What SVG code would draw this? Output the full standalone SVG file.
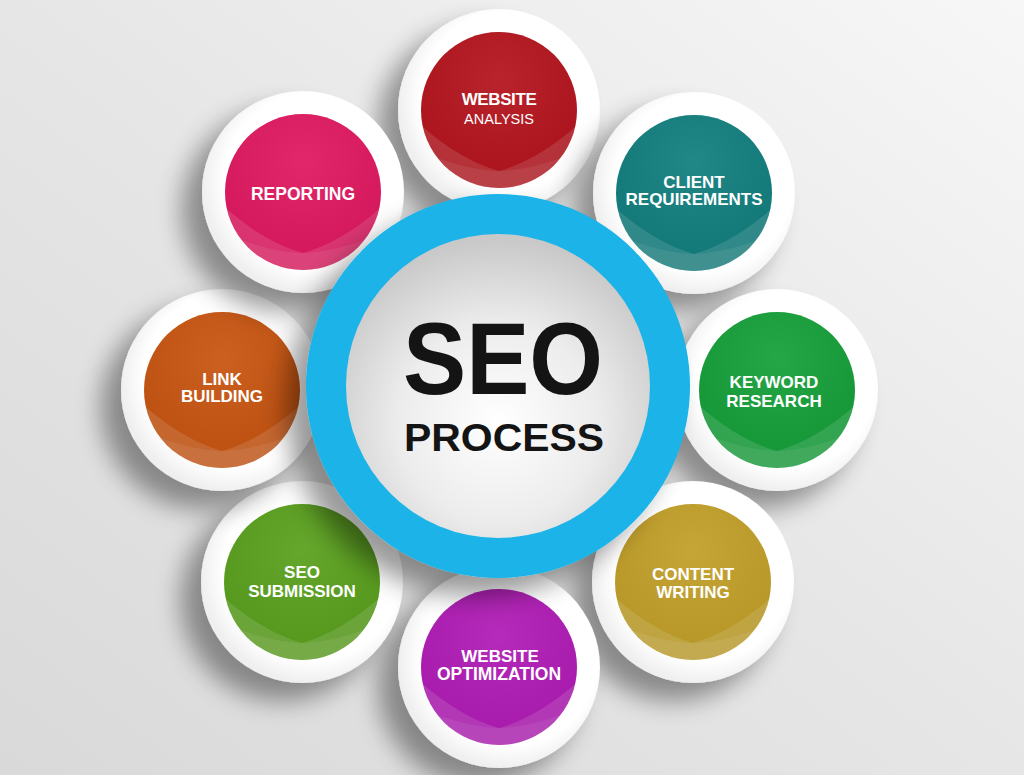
<svg xmlns="http://www.w3.org/2000/svg" width="1024" height="775" viewBox="0 0 1024 775">
<defs>
  <linearGradient id="bg" x1="0" y1="1" x2="1" y2="0">
    <stop offset="0" stop-color="#d9d9d9"/>
    <stop offset="0.5" stop-color="#e6e6e6"/>
    <stop offset="1" stop-color="#f7f7f7"/>
  </linearGradient>
  <radialGradient id="core" cx="0.5" cy="0.62" r="0.6">
    <stop offset="0" stop-color="#ffffff"/>
    <stop offset="0.55" stop-color="#ececec"/>
    <stop offset="1" stop-color="#c9c9c9"/>
  </radialGradient>
  <radialGradient id="rim" cx="0.55" cy="0.45" r="0.55">
    <stop offset="0.8" stop-color="#ffffff"/>
    <stop offset="1" stop-color="#efefef"/>
  </radialGradient>
  <radialGradient id="gloss" cx="0.5" cy="0.3" r="0.6">
    <stop offset="0" stop-color="#ffffff" stop-opacity="0.06"/>
    <stop offset="1" stop-color="#000000" stop-opacity="0.05"/>
  </radialGradient>
  <filter id="shadow" x="-50%" y="-50%" width="200%" height="200%">
    <feGaussianBlur in="SourceAlpha" stdDeviation="13"/>
    <feOffset dx="-20" dy="18" result="b"/>
    <feComponentTransfer><feFuncA type="linear" slope="0.4"/></feComponentTransfer>
    <feMerge><feMergeNode/><feMergeNode in="SourceGraphic"/></feMerge>
  </filter>
  <clipPath id="cc"><circle cx="0" cy="0" r="78"/></clipPath>
  <style>
    .rim{fill:url(#rim);filter:url(#shadow)}
    .lab{font-family:"Liberation Sans",Arial,sans-serif;font-weight:bold;font-size:17px;fill:#ffffff;text-anchor:middle}
    .sub{font-family:"Liberation Sans",Arial,sans-serif;font-weight:normal;font-size:14.5px;fill:#ffffff;text-anchor:middle}
    .big{font-family:"Liberation Sans",Arial,sans-serif;font-weight:bold;fill:#141414;text-anchor:middle}
  </style>
  <g id="lens">
    <g clip-path="url(#cc)">
      <path d="M-82,12 Q-40,50 0,61 Q40,50 82,12 L82,90 L-82,90 Z" fill="#ffffff" fill-opacity="0.13"/>
      <path d="M-82,40 Q-35,60 0,61 Q35,60 82,40 L82,90 L-82,90 Z" fill="#ffffff" fill-opacity="0.08"/>
      <circle r="78" fill="url(#gloss)"/>
    </g>
  </g>
</defs>
<rect width="1024" height="775" fill="url(#bg)"/>

<g id="node-website-analysis" transform="translate(499,110)">
  <circle class="rim" r="101"/>
  <circle r="78" fill="#b5161f"/>
  <use href="#lens"/>
  <text class="lab" x="0" y="-5" letter-spacing="-0.4">WEBSITE</text>
  <text class="sub" x="0" y="14">ANALYSIS</text>
</g>
<g id="node-client-requirements" transform="translate(694,193)">
  <circle class="rim" r="101"/>
  <circle r="78" fill="#14807f"/>
  <use href="#lens"/>
  <text class="lab" x="0" y="-5">CLIENT</text>
  <text class="lab" x="0" y="12">REQUIREMENTS</text>
</g>
<g id="node-keyword-research" transform="translate(777,390)">
  <circle class="rim" r="101"/>
  <circle r="78" fill="#17a03b"/>
  <use href="#lens"/>
  <text class="lab" x="-3" y="-2">KEYWORD</text>
  <text class="lab" x="-3" y="17">RESEARCH</text>
</g>
<g id="node-content-writing" transform="translate(693,582)">
  <circle class="rim" r="101"/>
  <circle r="78" fill="#c2a02a"/>
  <use href="#lens"/>
  <text class="lab" x="0" y="-2">CONTENT</text>
  <text class="lab" x="0" y="16">WRITING</text>
</g>
<g id="node-website-optimization" transform="translate(499,667)">
  <circle class="rim" r="101"/>
  <circle r="78" fill="#b11db6"/>
  <use href="#lens"/>
  <text class="lab" x="1" y="-5">WEBSITE</text>
  <text class="lab" x="0" y="13" style="font-size:17.5px">OPTIMIZATION</text>
</g>
<g id="node-seo-submission" transform="translate(302,582)">
  <circle class="rim" r="101"/>
  <circle r="78" fill="#5ba11f"/>
  <use href="#lens"/>
  <text class="lab" x="0" y="-4">SEO</text>
  <text class="lab" x="0" y="15">SUBMISSION</text>
</g>
<g id="node-link-building" transform="translate(222,390)">
  <circle class="rim" r="101"/>
  <circle r="78" fill="#c85613"/>
  <use href="#lens"/>
  <text class="lab" x="0" y="-5">LINK</text>
  <text class="lab" x="0" y="12">BUILDING</text>
</g>
<g id="node-reporting" transform="translate(303,192)">
  <circle class="rim" r="101"/>
  <circle r="78" fill="#e01a61"/>
  <use href="#lens"/>
  <text class="lab" x="0" y="8" style="font-size:17.5px">REPORTING</text>
</g>

<g id="connectors"></g>

<g id="node-seo-process">
  <circle cx="498" cy="386" r="192" fill="#1ab4e8" filter="url(#shadow)"/>
  <circle cx="498" cy="386" r="152" fill="url(#core)"/>
  <text class="big" x="503" y="394" font-size="102" textLength="200" lengthAdjust="spacingAndGlyphs">SEO</text>
  <text class="big" x="504" y="451" font-size="39" textLength="200" lengthAdjust="spacingAndGlyphs">PROCESS</text>
</g>
</svg>
